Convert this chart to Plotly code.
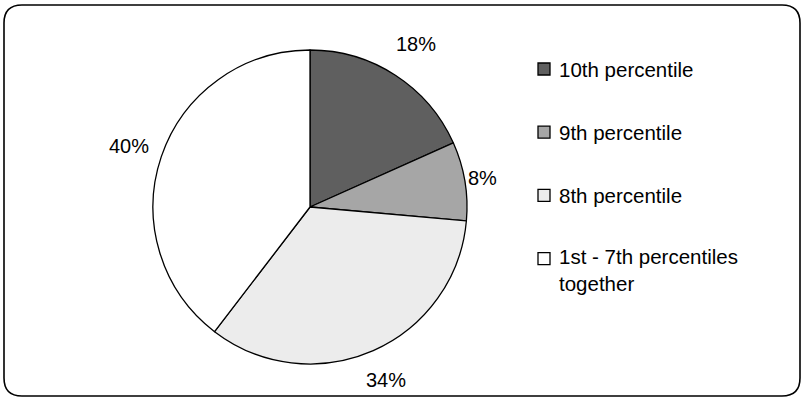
import math
import plotly.graph_objects as go

# ---- data ----
categories = ["10th percentile", "9th percentile", "8th percentile", "1st - 7th percentiles<br>together"]
values = [18.3, 8.1, 34.0, 39.6]

# ---- style ----
colors = ["#5f5f5f", "#a6a6a6", "#ececec", "#ffffff"]
W, H = 803, 398
CX, CY, R = 310, 207, 157          # pie centre / radius in pixels
label_gaps = [20, 4, 17, 13]       # extra radial gap for each outside label
FONT = "Liberation Sans, Arial, Helvetica, sans-serif"
LABEL_SIZE = 20
LEGEND_SIZE = 20.5


def px(x):
    return x / W


def py(y):
    return 1 - y / H


fig = go.Figure(go.Pie(
    labels=categories,
    values=values,
    sort=False,
    direction="clockwise",
    rotation=0,
    marker=dict(colors=colors, line=dict(color="#000000", width=1.3)),
    textinfo="none",
    hoverinfo="label+percent",
    showlegend=False,
    domain=dict(x=[px(CX - R), px(CX + R)], y=[py(CY + R), py(CY - R)]),
))

annotations = []
shapes = []

# outside percentage labels, placed from the slice mid-angles
total = sum(values)
cum = 0.0
for v, gap in zip(values, label_gaps):
    mid = (cum + v / 2) / total * 2 * math.pi
    cum += v
    dx, dy = math.sin(mid), -math.cos(mid)
    txt = f"{v / total * 100:.0f}%"
    hw = len(txt) * 0.33 * LABEL_SIZE
    hh = 0.4 * LABEL_SIZE
    ext = hw * abs(dx) + hh * abs(dy)
    d = R + gap + ext
    annotations.append(dict(
        x=px(CX + dx * d), y=py(CY + dy * d), xref="paper", yref="paper",
        text=txt, showarrow=False, xanchor="center", yanchor="middle",
        font=dict(family=FONT, size=LABEL_SIZE, color="#000000"),
    ))

# manual legend
LEG_X = 538
SQ = 12
LEG_Y0 = 69
LEG_STEP = 63.2
LINE_H = 23
for i, (cat, col) in enumerate(zip(categories, colors)):
    yc = LEG_Y0 + i * LEG_STEP
    shapes.append(dict(
        type="rect", xref="paper", yref="paper",
        x0=px(LEG_X), x1=px(LEG_X + SQ), y0=py(yc + SQ / 2), y1=py(yc - SQ / 2),
        fillcolor=col, line=dict(color="#000000", width=1.3),
    ))
    nlines = cat.count("<br>") + 1
    annotations.append(dict(
        x=px(LEG_X + SQ + 7), y=py(yc + (nlines - 1) * LINE_H / 2),
        xref="paper", yref="paper", text=cat, showarrow=False,
        xanchor="left", yanchor="middle", align="left",
        font=dict(family=FONT, size=LEGEND_SIZE, color="#000000"),
    ))

# rounded outer border
x0, x1, y0, y1, r = 4, 800, 5, 396, 18
path = (
    f"M {px(x0 + r)},{py(y0)} L {px(x1 - r)},{py(y0)} "
    f"Q {px(x1)},{py(y0)} {px(x1)},{py(y0 + r)} "
    f"L {px(x1)},{py(y1 - r)} Q {px(x1)},{py(y1)} {px(x1 - r)},{py(y1)} "
    f"L {px(x0 + r)},{py(y1)} Q {px(x0)},{py(y1)} {px(x0)},{py(y1 - r)} "
    f"L {px(x0)},{py(y0 + r)} Q {px(x0)},{py(y0)} {px(x0 + r)},{py(y0)} Z"
)
shapes.append(dict(type="path", xref="paper", yref="paper", path=path,
                   line=dict(color="#000000", width=1.6), fillcolor="rgba(0,0,0,0)"))

fig.update_layout(
    width=W, height=H,
    margin=dict(l=0, r=0, t=0, b=0),
    paper_bgcolor="#ffffff",
    plot_bgcolor="#ffffff",
    annotations=annotations,
    shapes=shapes,
)

fig.write_html("out.html")
